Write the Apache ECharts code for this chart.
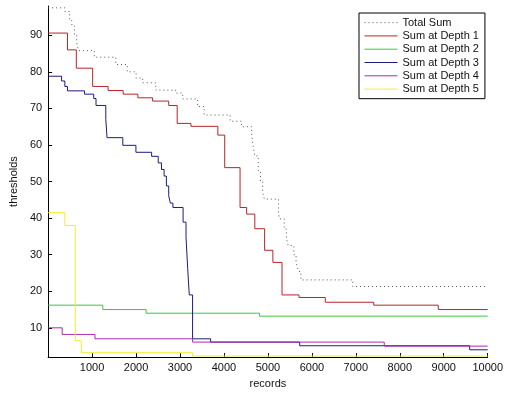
<!DOCTYPE html>
<html>
<head>
<meta charset="utf-8">
<script src="https://cdn.jsdelivr.net/npm/echarts@6/dist/echarts.min.js"></script>
<style>
html,body{margin:0;padding:0;background:#fff;}
#c{width:506px;height:394px;}
</style>
</head>
<body>
<div id="c"></div>
<script>
// ---- data (records, threshold) ----
var seriesNames = ['Total Sum', 'Sum at Depth 1', 'Sum at Depth 2', 'Sum at Depth 3', 'Sum at Depth 4', 'Sum at Depth 5'];

var totalSum = [[0,97.5],[380,96.5],[490,94],[540,92.5],[600,90],[650,88],[690,85.8],[1050,84],[1540,82],[1800,80],[2000,78.3],[2150,77],[2450,75],[2900,74.2],[3060,72.6],[3400,70.5],[3550,68.2],[4140,66.5],[4400,65],[4630,63],[4660,60],[4700,57],[4780,53],[4830,50],[4880,47],[4920,45.2],[5240,42],[5260,39.8],[5370,37],[5420,34.5],[5460,32.5],[5590,30],[5640,28],[5680,26.2],[5700,25.4],[5750,23.1],[6930,21.3],[10000,21.3]];

var depth1 = [[0,90.6],[440,86],[641,81],[1013,76],[1364,74.9],[1706,73.9],[2041,72.9],[2377,72],[2743,70.8],[2936,65.9],[3249,65.1],[3861,62.7],[4017,53.8],[4366,42.9],[4516,41.1],[4702,37.1],[4925,31.2],[5113,27.9],[5321,19.0],[5708,18.3],[6305,17.0],[7407,16.2],[8875,15.0],[10000,15.0]];

var depth2 = [[0,16.2],[1245,15.0],[2229,14.0],[4810,13.2],[10000,13.2]];

var depth3 = [[0,78.8],[306,77.5],[380,76],[440,74.8],[827,73.9],[1037,72.7],[1089,70.8],[1312,67],[1340,62],[1699,59.9],[1997,58],[2354,56.9],[2504,55.1],[2578,53.3],[2638,51.5],[2690,48.8],[2743,46.1],[2780,44.1],[2839,42.9],[3070,38.9],[3137,34.8],[3175,26.2],[3197,21.7],[3212,19.0],[3286,7.0],[3697,6.1],[5723,5.1],[9590,4.0],[10000,4.0]];

var depth4 = [[0,10],[320,8.2],[1066,7.0],[3286,6.1],[7646,5.0],[10000,5.0]];

var depth5 = [[0,41.5],[380,38],[618,6.5],[753,3.2],[3286,2.3],[10000,2.3]];

var xTicks = [1000,2000,3000,4000,5000,6000,7000,8000,9000,10000];
var yTicks = [10,20,30,40,50,60,70,80,90];

// ---- chart ----
var seriesData = [totalSum, depth1, depth2, depth3, depth4, depth5];
var colors = ['#555555', '#b8242a', '#3cc83c', '#1c1c7c', '#b028b0', '#eeee30'];

var chart = echarts.init(document.getElementById('c'), null, {renderer: 'canvas'});
var font = 'Liberation Sans, Arial, sans-serif';

var series = seriesNames.map(function (name, i) {
  return {
    name: name,
    type: 'line',
    step: 'end',
    data: seriesData[i],
    symbol: 'none',
    animation: false,
    color: colors[i],
    lineStyle: {
      color: colors[i],
      width: 1,
      type: i === 0 ? [1, 3] : 'solid'
    }
  };
});

function plain(v) { return String(v); }

chart.setOption({
  backgroundColor: '#fff',
  animation: false,
  grid: {left: 43, right: 16, top: 6, bottom: 34, containLabel: false},
  legend: {
    orient: 'vertical',
    left: 359,
    top: 13,
    padding: [4, 6, 4, 5],
    itemWidth: 33,
    itemHeight: 14,
    itemGap: 2.1,
    backgroundColor: '#fff',
    borderColor: '#000',
    borderWidth: 1,
    borderRadius: 0,
    itemStyle: {opacity: 0},
    lineStyle: {width: 1},
    textStyle: {fontFamily: font, fontSize: 11, color: '#111'},
    data: seriesNames
  },
  xAxis: {
    type: 'value',
    min: 0,
    max: 10000,
    name: 'records',
    nameLocation: 'middle',
    nameGap: 20,
    nameTextStyle: {fontFamily: font, fontSize: 11, color: '#111'},
    splitLine: {show: false},
    axisLine: {show: true, lineStyle: {color: '#000', width: 1}},
    axisTick: {show: true, inside: true, length: 4, customValues: xTicks, lineStyle: {color: '#000'}},
    axisLabel: {customValues: xTicks, formatter: plain, margin: 5, fontFamily: font, fontSize: 11, color: '#111'}
  },
  yAxis: {
    type: 'value',
    min: 2,
    max: 98,
    name: 'thresholds',
    nameLocation: 'middle',
    nameGap: 28,
    nameTextStyle: {fontFamily: font, fontSize: 11, color: '#111'},
    splitLine: {show: false},
    axisLine: {show: true, lineStyle: {color: '#000', width: 1}},
    axisTick: {show: true, inside: true, length: 4, customValues: yTicks, lineStyle: {color: '#000'}},
    axisLabel: {customValues: yTicks, formatter: plain, margin: 6, fontFamily: font, fontSize: 11, color: '#111'}
  },
  series: series
});
</script>
</body>
</html>
